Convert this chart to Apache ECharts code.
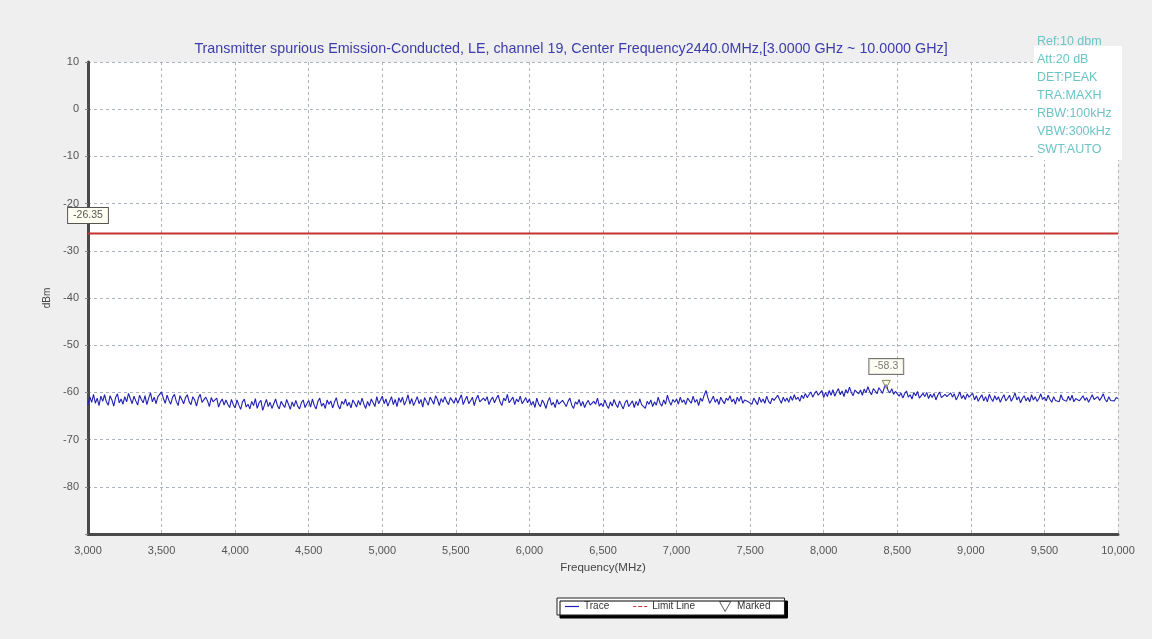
<!DOCTYPE html>
<html>
<head>
<meta charset="utf-8">
<script src="https://cdn.jsdelivr.net/npm/echarts@6/dist/echarts.min.js"></script>
<style>
  html, body { margin: 0; padding: 0; background: #fafafa; }
  #chart { width: 1152px; height: 639px; }
</style>
</head>
<body>
<div id="chart"></div>
<script>
// sweep: 3000 MHz .. 10000 MHz, one reading every 12.5 MHz (40 per 500 MHz row)
var freqStart = 3000;
var freqStep = 12.5;
var traceLevels = [
  -62.6, -60.9, -62.1, -60.4, -62.3, -61.2, -62.8, -60.8, -61.9, -60.5, -62.0, -62.7, -60.7, -61.6, -62.9, -61.1, -60.3, -62.2, -61.4, -62.5,
  -60.9, -62.0, -60.2, -61.3, -62.4, -60.8, -61.8, -62.7, -60.6, -61.5, -62.2, -60.7, -62.6, -61.2, -60.1, -62.0, -61.0, -62.4, -60.9, -60.5,
  -59.9, -61.3, -62.3, -60.6, -61.7, -62.5, -61.0, -60.4, -61.9, -62.8, -60.7, -61.5, -62.4, -61.1, -60.5, -62.0, -62.6, -60.9, -61.6, -62.9,
  -61.2, -60.4, -62.1, -62.5, -61.0, -61.8, -63.0, -61.1, -62.0, -62.4, -61.2, -63.1, -62.0, -61.4, -62.7, -61.6, -62.5, -63.2, -61.5, -62.6,
  -63.3, -61.6, -62.7, -63.6, -62.0, -61.4, -63.1, -62.5, -63.5, -61.9, -62.8, -61.3, -63.4, -62.2, -61.7, -63.8, -62.6, -61.5, -63.0, -62.1,
  -63.4, -62.4, -61.4, -62.8, -63.5, -61.9, -62.6, -63.2, -61.5, -62.5, -63.6, -62.0, -63.0, -61.7, -62.9, -63.5, -62.2, -61.6, -63.2, -62.4,
  -61.7, -63.1, -61.4, -62.7, -63.5, -61.9, -61.2, -62.9, -62.3, -63.4, -61.6, -62.5, -61.8, -63.3, -62.1, -61.1, -62.8, -63.5, -61.9, -62.5,
  -61.4, -62.9, -62.1, -63.3, -61.6, -62.3, -63.1, -61.7, -62.7, -61.2, -62.5, -63.4, -61.9, -62.9, -61.4, -62.2, -63.0, -60.9, -62.4, -61.6,
  -60.8, -62.4, -61.4, -62.9, -61.9, -60.9, -62.6, -61.5, -63.0, -61.1, -62.1, -61.0, -62.7, -61.8, -60.5, -62.5, -61.3, -62.8, -61.9, -60.9,
  -62.4, -61.5, -63.1, -61.1, -61.9, -62.7, -61.0, -61.7, -62.5, -60.7, -61.5, -62.8, -61.3, -62.1, -60.9, -61.9, -62.6, -61.1, -61.7, -62.3,
  -61.1, -62.3, -61.4, -60.5, -62.6, -61.6, -60.8, -62.4, -61.8, -61.0, -62.8, -61.4, -60.6, -62.0, -62.4, -61.2, -61.8, -60.9, -62.6, -61.6,
  -61.0, -62.2, -61.3, -60.6, -62.0, -62.8, -61.2, -61.8, -60.4, -62.2, -61.6, -61.0, -62.6, -61.4, -62.0, -60.8, -62.4, -61.8, -61.1, -62.2,
  -61.4, -62.7, -61.9, -63.2, -61.2, -62.5, -63.0, -61.6, -62.3, -63.4, -61.9, -61.1, -62.7, -62.1, -63.2, -61.5, -62.5, -62.9, -61.7, -62.3,
  -63.0, -61.9, -61.2, -62.7, -63.4, -62.0, -62.5, -61.5, -62.9, -61.9, -63.2, -62.3, -61.7, -62.7, -63.0, -61.9, -62.5, -61.2, -62.9, -62.3,
  -63.0, -61.6, -62.7, -63.4, -62.0, -62.9, -61.5, -62.5, -63.2, -61.8, -62.7, -63.5, -62.2, -61.6, -63.0, -62.4, -61.8, -63.2, -61.9, -62.8,
  -61.4, -62.6, -62.2, -63.4, -61.9, -62.5, -61.6, -63.0, -62.0, -62.7, -61.0, -62.3, -62.9, -61.6, -62.5, -60.6, -61.9, -62.7, -61.5, -62.1,
  -61.4, -62.5, -61.0, -62.1, -61.6, -62.6, -61.2, -61.8, -62.3, -60.8, -62.1, -61.5, -62.8, -61.2, -61.9, -60.6, -59.6, -61.1, -62.3, -61.6,
  -60.8, -62.1, -61.4, -62.6, -61.0, -61.8, -62.4, -61.2, -61.7, -60.7, -62.0, -61.4, -62.5, -61.0, -61.9, -60.8, -62.3, -61.6, -61.2, -62.0,
  -61.6, -62.5, -61.2, -61.9, -62.6, -61.0, -62.1, -61.4, -62.3, -60.8, -61.9, -62.4, -61.2, -61.7, -62.1, -60.6, -61.5, -62.3, -61.0, -61.9,
  -61.2, -62.1, -60.8, -61.7, -60.5, -61.5, -61.0, -61.9, -60.6, -61.3, -60.2, -61.1, -60.5, -59.9, -61.0, -60.3, -59.7, -60.6, -60.1, -59.6,
  -61.1, -60.0, -60.9, -59.6, -60.6, -59.4, -60.8, -59.9, -59.2, -60.5, -59.7, -60.9, -59.4, -60.2, -58.9, -60.0, -60.7, -59.5, -59.1, -60.3,
  -59.5, -60.6, -59.3, -60.1, -58.8, -59.8, -60.5, -59.2, -59.7, -60.3, -59.0, -59.6, -60.2, -58.9, -58.3, -59.6, -60.1, -59.2, -60.4, -59.8,
  -59.9, -60.8, -60.1, -61.2, -60.3, -59.7, -61.0, -60.5, -61.4, -60.0, -60.7, -59.8, -61.2, -61.5, -60.2, -60.9, -60.0, -61.3, -60.4, -61.1,
  -60.2, -61.6, -60.6, -59.9, -61.1, -61.5, -60.4, -60.9, -61.3, -60.1, -61.0, -60.3, -61.6, -60.8, -59.9, -61.3, -60.6, -61.5, -60.3, -61.0,
  -61.0, -60.2, -61.6, -60.7, -61.9, -61.1, -60.5, -61.8, -60.9, -62.0, -60.4, -61.3, -61.9, -60.7, -61.6, -60.9, -62.1, -61.2, -60.5, -61.8,
  -61.3, -60.6, -61.9, -61.1, -60.1, -61.6, -60.9, -62.2, -61.3, -60.7, -61.8, -61.1, -62.0, -60.5, -61.6, -60.9, -61.9, -61.3, -60.3, -61.5,
  -61.0, -61.8, -60.6, -61.5, -62.1, -60.9, -61.7, -61.3, -62.0, -60.5, -61.5, -61.1, -61.9, -60.8, -61.7, -60.6, -62.0, -61.3, -60.9, -61.8,
  -61.5, -60.7, -61.7, -61.1, -62.1, -61.3, -60.5, -61.5, -61.9, -60.9, -61.7, -61.1, -60.3, -61.5, -62.0, -60.9, -61.7, -61.3, -61.8, -61.1,
  -61.3
];
var limitLine = [[3000, -26.35], [10000, -26.35]];
var markedPoint = [[8425, -58.3]];
var yTicks = [10, 0, -10, -20, -30, -40, -50, -60, -70, -80];
var xTicks = [3000, 3500, 4000, 4500, 5000, 5500, 6000, 6500, 7000, 7500, 8000, 8500, 9000, 9500, 10000];
var infoLines = ["Ref:10 dbm", "Att:20 dB", "DET:PEAK", "TRA:MAXH", "RBW:100kHz", "VBW:300kHz", "SWT:AUTO"];

var traceData = traceLevels.map(function (v, i) { return [freqStart + i * freqStep, v]; });

var chart = echarts.init(document.getElementById("chart"));

var labelBox = {
  color: "#555",
  fontSize: 10.5,
  fontFamily: "Liberation Sans",
  backgroundColor: "#fffff2",
  borderColor: "#555",
  borderWidth: 1,
  padding: [2, 5, 2, 5]
};

// white patch behind the setting texts (grid lines stop there)
var graphics = [{
  type: "rect",
  shape: { x: 1034, y: 46, width: 88, height: 114 },
  style: { fill: "#fff" },
  z: 1
}];
infoLines.forEach(function (t, i) {
  graphics.push({
    type: "text",
    left: 1037,
    top: 35 + i * 18,
    z: 2,
    style: { text: t, fill: "#6cc4c8", fontSize: 12.5, fontFamily: "Liberation Sans" }
  });
});

chart.setOption({
  backgroundColor: "#efefef",
  animation: false,
  title: {
    text: "Transmitter spurious Emission-Conducted, LE, channel 19, Center Frequency2440.0MHz,[3.0000 GHz ~ 10.0000 GHz]",
    left: 566,
    top: 37,
    textAlign: "center",
    textStyle: { color: "#3c3caa", fontSize: 14.3, fontWeight: "normal", fontFamily: "Liberation Sans" }
  },
  graphic: graphics,
  legend: {
    left: 557,
    top: 598,
    padding: [3, 14, 3, 8],
    itemGap: 24,
    itemWidth: 14,
    itemHeight: 10,
    backgroundColor: "#fff",
    borderColor: "#222",
    borderWidth: 1,
    borderRadius: 0,
    shadowColor: "#000",
    shadowBlur: 0,
    shadowOffsetX: 3,
    shadowOffsetY: 3,
    textStyle: { color: "#333", fontSize: 10, fontFamily: "Liberation Sans" },
    data: [
      { name: "Trace", icon: "path://M0,0H14V1.2H0Z" },
      { name: "Limit Line", icon: "path://M0,0H3V1.2H0Z M5,0H9V1.2H5Z M11,0H14V1.2H11Z" },
      { name: "Marked", icon: "path://M0,0L9,0L4.5,8Z", itemStyle: { color: "#fff", borderColor: "#333", borderWidth: 1 } }
    ]
  },
  grid: {
    left: 88,
    right: 34,
    top: 62,
    bottom: 105,
    show: true,
    backgroundColor: "#fff",
    borderWidth: 0
  },
  xAxis: {
    type: "value",
    min: 3000,
    max: 10000,
    interval: 500,
    name: "Frequency(MHz)",
    nameLocation: "middle",
    nameGap: 28,
    nameTextStyle: { color: "#444", fontSize: 11.5, fontFamily: "Liberation Sans" },
    axisLine: { show: true, onZero: false, lineStyle: { color: "#4a4a4a", width: 3 } },
    axisTick: { show: false },
    axisLabel: {
      color: "#555",
      fontSize: 11,
      margin: 11,
      fontFamily: "Liberation Sans",
      formatter: function (v) { return xTicks.indexOf(v) >= 0 ? v.toLocaleString("en-US") : ""; }
    },
    splitLine: { show: true, lineStyle: { color: "#b4b4b4", type: [3, 3], width: 1 } }
  },
  yAxis: {
    type: "value",
    min: -90,
    max: 10,
    interval: 10,
    name: "dBm",
    nameLocation: "middle",
    nameGap: 36,
    nameRotate: 90,
    nameTextStyle: { color: "#444", fontSize: 10, fontFamily: "Liberation Sans" },
    axisLine: { show: true, onZero: false, lineStyle: { color: "#4a4a4a", width: 3 } },
    axisTick: { show: true, length: 3, lineStyle: { color: "#888" } },
    axisLabel: {
      color: "#555",
      fontSize: 11,
      margin: 9,
      fontFamily: "Liberation Sans",
      formatter: function (v) { return yTicks.indexOf(v) >= 0 ? String(v) : ""; }
    },
    splitLine: { show: true, lineStyle: { color: "#a9b4c0", type: [3, 3], width: 1 } }
  },
  series: [
    {
      name: "Trace",
      type: "line",
      data: traceData,
      showSymbol: false,
      symbol: "none",
      lineStyle: { color: "#2020b4", width: 1.1 },
      itemStyle: { color: "#2020b4" },
      z: 3
    },
    {
      name: "Limit Line",
      type: "line",
      data: limitLine.map(function (p, i) {
        return { value: p, label: { show: i === 0 } };
      }),
      symbol: "circle",
      symbolSize: 1,
      showSymbol: true,
      lineStyle: { color: "#c83232", width: 2 },
      itemStyle: { color: "#c83232" },
      label: Object.assign({
        position: "top",
        distance: 10,
        formatter: function (p) { return String(p.value[1]); }
      }, labelBox),
      z: 2
    },
    {
      name: "Marked",
      type: "scatter",
      data: markedPoint,
      symbol: "triangle",
      symbolRotate: 180,
      symbolSize: 8,
      itemStyle: { color: "rgba(255,255,220,0.6)", borderColor: "#6b6b2a", borderWidth: 1 },
      label: Object.assign({
        show: true,
        position: "top",
        distance: 6,
        formatter: function (p) { return String(p.value[1]); }
      }, labelBox),
      z: 5
    }
  ]
});
</script>
</body>
</html>
